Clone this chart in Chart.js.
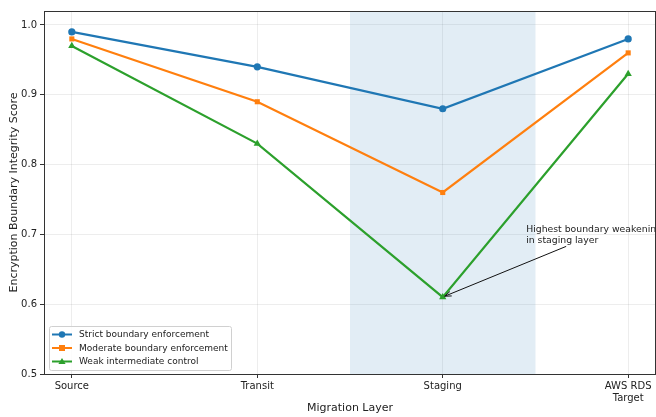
<!DOCTYPE html>
<html>
<head>
<meta charset="utf-8">
<script src="https://cdn.jsdelivr.net/npm/chart.js@4.4.1/dist/chart.umd.min.js"></script>
<style>
  html, body { margin: 0; padding: 0; background: #fff; overflow: hidden; }
  #wrap { width: 656px; height: 417px; }
</style>
</head>
<body>
<div id="wrap"><canvas id="myChart"></canvas></div>
<script>
// datos del grafico
const layers = ['Source', 'Transit', 'Staging', ['AWS RDS', 'Target']];
const strictScores = [0.99, 0.94, 0.88, 0.98];
const moderateScores = [0.98, 0.89, 0.76, 0.96];
const weakScores = [0.97, 0.83, 0.61, 0.93];
const yTicks = [0.5, 0.6, 0.7, 0.8, 0.9, 1.0];

const FONT = "'DejaVu Sans', sans-serif";

const toPoints = (arr) => arr.map((v, i) => ({ x: i, y: v }));

// franja sombreada de la capa staging
const shadePlugin = {
    id: 'shade',
    beforeDatasetsDraw(chart) {
        const { ctx, chartArea, scales } = chart;
        const x0 = scales.x.getPixelForValue(1.5);
        const x1 = scales.x.getPixelForValue(2.5);
        ctx.save();
        ctx.fillStyle = 'rgba(31, 119, 180, 0.13)';
        ctx.fillRect(x0, chartArea.top, x1 - x0, chartArea.bottom - chartArea.top);
        ctx.restore();
    }
};

// marco, anotacion y leyenda
const extrasPlugin = {
    id: 'extras',
    afterDraw(chart) {
        const { ctx, chartArea, scales } = chart;
        ctx.save();
        // marco
        ctx.strokeStyle = '#333';
        ctx.lineWidth = 1;
        ctx.strokeRect(chartArea.left + 0.5, chartArea.top + 0.5,
            chartArea.right - chartArea.left - 1, chartArea.bottom - chartArea.top);

        // anotacion
        const tx = scales.x.getPixelForValue(2.45);
        const ty = scales.y.getPixelForValue(0.70);
        ctx.fillStyle = '#222';
        ctx.font = '9.3px ' + FONT;
        ctx.textBaseline = 'middle';
        ctx.textAlign = 'left';
        ctx.fillText('Highest boundary weakening', tx, ty - 5);
        ctx.fillText('in staging layer', tx, ty + 6);

        const ax = scales.x.getPixelForValue(2.0);
        const ay = scales.y.getPixelForValue(0.61);
        const sx = tx + 40, sy = ty + 12;
        ctx.strokeStyle = '#111';
        ctx.lineWidth = 1;
        ctx.beginPath();
        ctx.moveTo(sx, sy);
        ctx.lineTo(ax + 2, ay - 1);
        ctx.stroke();
        const ang = Math.atan2(sy - ay, sx - ax);
        const hl = 7;
        ctx.beginPath();
        ctx.moveTo(ax + 2 + hl * Math.cos(ang + 0.35), ay - 1 + hl * Math.sin(ang + 0.35));
        ctx.lineTo(ax + 2, ay - 1);
        ctx.lineTo(ax + 2 + hl * Math.cos(ang - 0.35), ay - 1 + hl * Math.sin(ang - 0.35));
        ctx.stroke();

        // leyenda
        const lx = chartArea.left + 5, ly = chartArea.bottom - 48;
        const lw = 182, lh = 44;
        ctx.fillStyle = 'rgba(255,255,255,0.8)';
        ctx.strokeStyle = '#d0d0d0';
        ctx.beginPath();
        ctx.roundRect(lx + 0.5, ly + 0.5, lw, lh, 2);
        ctx.fill();
        ctx.stroke();
        chart.data.datasets.forEach((ds, i) => {
            const yy = ly + 8.5 + i * 13.5;
            ctx.strokeStyle = ds.borderColor;
            ctx.lineWidth = 2;
            ctx.beginPath();
            ctx.moveTo(lx + 3, yy);
            ctx.lineTo(lx + 23, yy);
            ctx.stroke();
            ctx.fillStyle = ds.borderColor;
            ctx.beginPath();
            const cx = lx + 13;
            if (ds.pointStyle === 'circle') {
                ctx.arc(cx, yy, 3.2, 0, Math.PI * 2);
            } else if (ds.pointStyle === 'rect') {
                ctx.rect(cx - 3, yy - 3, 6, 6);
            } else {
                ctx.moveTo(cx, yy - 3.6);
                ctx.lineTo(cx + 3.6, yy + 2.6);
                ctx.lineTo(cx - 3.6, yy + 2.6);
                ctx.closePath();
            }
            ctx.fill();
            ctx.fillStyle = '#222';
            ctx.font = '9px ' + FONT;
            ctx.textAlign = 'left';
            ctx.textBaseline = 'middle';
            ctx.fillText(ds.label, lx + 30, yy + 0.5);
        });
        ctx.restore();
    }
};

function makeDataset(label, data, color, style) {
    return {
        label: label,
        data: toPoints(data),
        borderColor: color,
        backgroundColor: color,
        borderWidth: 2.2,
        pointStyle: style,
        pointRadius: style === 'triangle' ? 4.2 : 3.6,
        pointBorderWidth: 0,
        tension: 0
    };
}

const ctx = document.getElementById('myChart');
const myChart = new Chart(ctx, {
    type: 'line',
    data: {
        datasets: [
            makeDataset('Strict boundary enforcement', strictScores, '#1f77b4', 'circle'),
            makeDataset('Moderate boundary enforcement', moderateScores, '#ff7f0e', 'rect'),
            makeDataset('Weak intermediate control', weakScores, '#2ca02c', 'triangle')
        ]
    },
    options: {
        responsive: true,
        maintainAspectRatio: false,
        animation: false,
        layout: { autoPadding: false, padding: { top: 11, right: 0, left: 0, bottom: 0 } },
        plugins: {
            legend: { display: false },
            tooltip: { enabled: false }
        },
        scales: {
            x: {
                type: 'linear',
                min: -0.15,
                max: 3.15,
                afterFit: (s) => { s.height = 43; s.paddingRight = 0; s.paddingLeft = 0; },
                afterBuildTicks: (s) => { s.ticks = layers.map((l, i) => ({ value: i })); },
                ticks: {
                    autoSkip: false,
                    maxRotation: 0,
                    color: '#222',
                    font: { family: FONT, size: 10 },
                    padding: 2,
                    callback: (v) => layers[v]
                },
                grid: { color: 'rgba(0,0,0,0.07)', tickLength: 4, tickColor: '#333' },
                border: { display: true, color: '#333' },
                title: {
                    display: true,
                    text: 'Migration Layer',
                    color: '#222',
                    font: { family: FONT, size: 11 },
                    padding: { top: 0, bottom: 2 }
                }
            },
            y: {
                min: 0.5,
                max: 1.02,
                afterFit: (s) => { s.width = 44; s.paddingTop = 0; s.paddingBottom = 0; },
                afterBuildTicks: (s) => { s.ticks = yTicks.map((v) => ({ value: v })); },
                ticks: {
                    color: '#222',
                    font: { family: FONT, size: 10 },
                    padding: 3,
                    callback: (v) => v.toFixed(1)
                },
                grid: { color: 'rgba(0,0,0,0.07)', tickLength: 4, tickColor: '#333' },
                border: { display: true, color: '#333' },
                title: {
                    display: true,
                    text: 'Encryption Boundary Integrity Score',
                    color: '#222',
                    font: { family: FONT, size: 11 },
                    padding: { top: 8, bottom: 0 }
                }
            }
        }
    },
    plugins: [shadePlugin, extrasPlugin]
});
</script>
</body>
</html>
